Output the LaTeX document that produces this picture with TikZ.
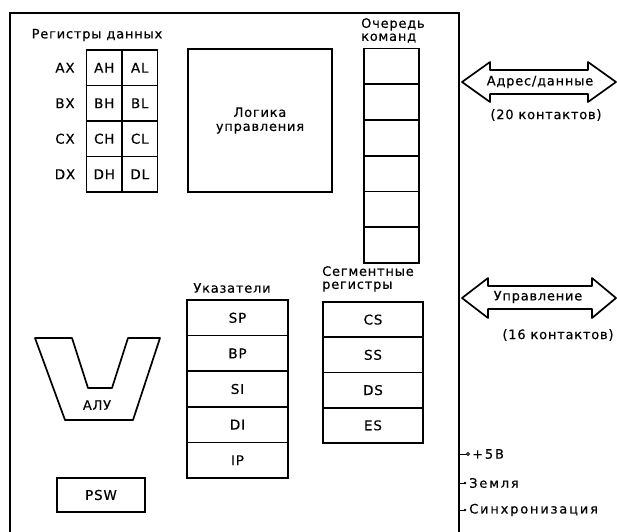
\documentclass[tikz,border=0pt]{standalone}
\usepackage{fontspec}
\setmainfont{DejaVu Sans}
\newfontfamily\lab[LetterSpace=6,FakeBold=0.4]{DejaVu Sans}
\newfontfamily\pinfont[LetterSpace=14,FakeBold=0.4]{DejaVu Sans}
\begin{document}
\begin{tikzpicture}[x=1pt,y=-1pt,
  lw/.style={line width=1.7pt},
  cell/.style={draw, line width=1.6pt, inner sep=0pt, font=\lab\fontsize{13.5}{13}\selectfont},
  lbl/.style={inner sep=0pt, font=\lab\fontsize{13}{13}\selectfont},
  pin/.style={inner sep=0pt, anchor=west, font=\pinfont\fontsize{13}{13}\selectfont}]
\useasboundingbox (0,0) rectangle (617,531);
% main chip outline (cut off at bottom)
\draw[lw] (10,535) -- (10,13) -- (459,13) -- (459,535);

% data registers
\node[lbl] (dregs) at (97,35) {Регистры данных};
\foreach \r/\n/\y in {A/1/67.75, B/2/103.25, C/3/138.75, D/4/174.25}{
  \node[cell, minimum width=35.5pt, minimum height=35.5pt] (\r H) at (104.25,\y) {\r H};
  \node[cell, minimum width=35.5pt, minimum height=35.5pt] (\r L) at (139.75,\y) {\r L};
  \node[lbl, font=\lab\fontsize{13.5}{13}\selectfont] (\r X) at (65,\y) {\r X};
}

% control logic
\node[cell, font=\lab\fontsize{13}{13}\selectfont, minimum width=144pt, minimum height=143pt, align=center] (logic) at (260,120.5) {Логика\\[1pt]управления};

% instruction queue
\node[lbl, align=left, anchor=north west] (qlbl) at (361,18) {Очередь\\команд};
\foreach \i in {0,...,5}{
  \node[cell, minimum width=55pt, minimum height=35.75pt] (q\i) at (391.5,{66.375+35.75*\i}) {};
}

% pointers
\node[lbl] (plbl) at (232,288) {Указатели};
\foreach \t [count=\i from 0] in {SP,BP,SI,DI,IP}{
  \node[cell, minimum width=101pt, minimum height=35.6pt] (p\t) at (237.5,{317.8+35.6*\i}) {\t};
}

% segment registers
\node[lbl, align=left, anchor=north west] (slbl) at (322,266) {Сегментные\\регистры};
\foreach \t [count=\i from 0] in {CS,SS,DS,ES}{
  \node[cell, minimum width=100pt, minimum height=35.25pt] (s\t) at (373,{319.6+35.25*\i}) {\t};
}

% ALU
\draw[lw, line join=round] (35,338) -- (72,338) -- (88,388) -- (112,388) -- (128,338) -- (160,338) -- (133,420) -- (65,420) -- cycle;
\node[lbl] (alu) at (97,405) {АЛУ};

% PSW
\node[cell, minimum width=88pt, minimum height=34pt] (psw) at (101,495) {PSW};

% bus arrows
\draw[lw, line join=round] (462,82) -- (490,62) -- (490,70) -- (588,70) -- (588,62) -- (616,82) -- (588,102) -- (588,94) -- (490,94) -- (490,102) -- cycle;
\node[lbl] (adr) at (540,82) {Адрес/данные};
\node[lbl] (adrn) at (546,115) {(20 контактов)};
\draw[lw, line join=round] (462,298) -- (488,278) -- (488,286) -- (592,286) -- (592,278) -- (616,298) -- (592,318) -- (592,309) -- (488,309) -- (488,318) -- cycle;
\node[lbl] (ctl) at (538,297) {Управление};
\node[lbl] (ctln) at (558,335) {(16 контактов)};

% power / ground / clock pins
\coordinate (e1) at (459,454);
\coordinate (e2) at (459,483);
\coordinate (e3) at (459,510);
\coordinate (t1) at (468,454);
\coordinate (t2) at (465,483);
\coordinate (t3) at (465,510);
\draw[line width=1pt] (e1) -- (t1);
\draw[line width=0.8pt, fill=white] (t1) circle (1.5);
\draw[line width=1pt] (e2) -- (t2);
\fill (t2) circle (1.3);
\draw[line width=1pt] (e3) -- (t3);
\fill (t3) circle (1.3);
\node[pin] (v5) at (472,454) {+5В};
\node[pin] (gnd) at (469,483) {Земля};
\node[pin] (clk) at (469,510) {Синхронизация};
\end{tikzpicture}
\end{document}
